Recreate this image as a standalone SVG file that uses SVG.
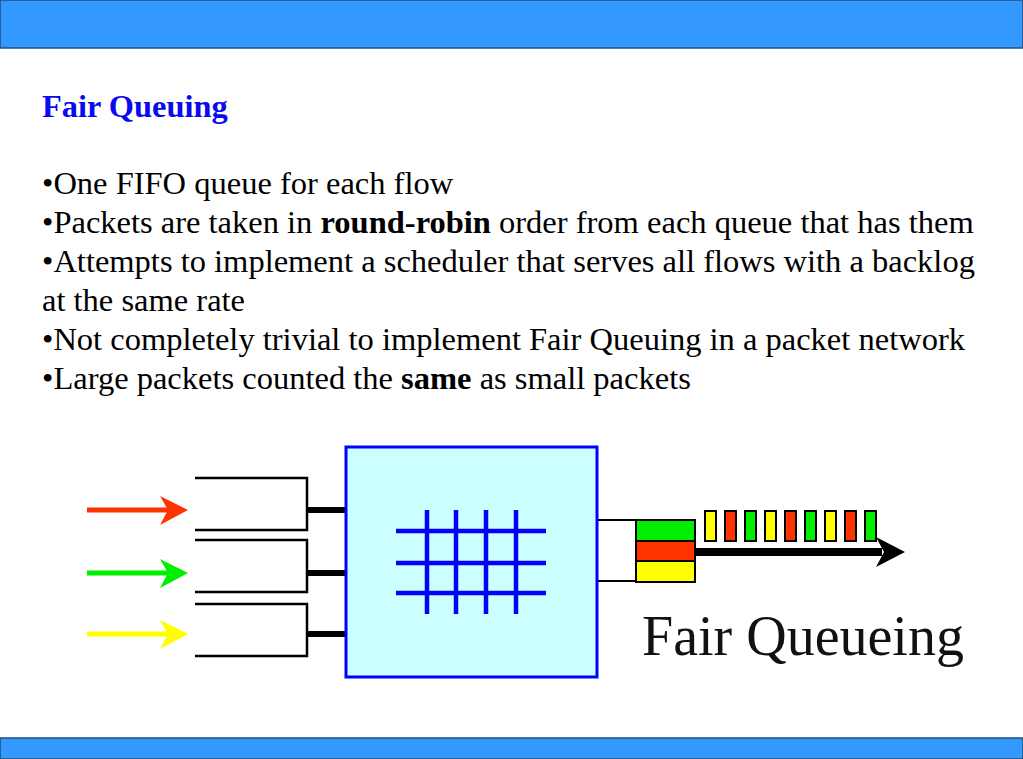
<svg xmlns="http://www.w3.org/2000/svg" width="1023" height="759" viewBox="0 0 1023 759">
<style>
.q{fill:none;stroke:#000;stroke-width:2.5}
.conn{stroke:#000;stroke-width:6}
.grid{stroke:#0000FF;stroke-width:4.5}
.pk{stroke:#000;stroke-width:2}
</style>
<rect x="0" y="0" width="1023" height="48" fill="#3399FF" stroke="#1F4F7F" stroke-width="1.5"/>
<rect x="0" y="738" width="1023" height="21" fill="#3399FF" stroke="#1F4F7F" stroke-width="1.5"/>
<g id="slide-body">
<text x="42" y="117" font-family="Liberation Serif" font-size="32.4" font-weight="bold" fill="#0A0AEE">Fair Queuing</text>
<text x="42" y="194" font-family="Liberation Serif" font-size="32.5" fill="#000">•One FIFO queue for each flow</text>
<text x="42" y="233" font-family="Liberation Serif" font-size="32.5" fill="#000">•Packets are taken in <tspan font-weight="bold">round-robin</tspan> order from each queue that has them</text>
<text x="42" y="272" font-family="Liberation Serif" font-size="32.5" fill="#000">•Attempts to implement a scheduler that serves all flows with a backlog</text>
<text x="42" y="311" font-family="Liberation Serif" font-size="32.5" fill="#000">at the same rate</text>
<text x="42" y="350" font-family="Liberation Serif" font-size="32.5" fill="#000">•Not completely trivial to implement Fair Queuing in a packet network</text>
<text x="42" y="389" font-family="Liberation Serif" font-size="32.5" fill="#000">•Large packets counted the <tspan font-weight="bold">same</tspan> as small packets</text>
</g>
<g id="arrows-in">
<line x1="87" y1="510" x2="168" y2="510" stroke="#FF3300" stroke-width="5"/>
<polygon points="188,510 160,496 168,510 160,525" fill="#FF3300"/>
<line x1="87" y1="573" x2="168" y2="573" stroke="#00EE00" stroke-width="5"/>
<polygon points="188,573 160,559 168,573 160,588" fill="#00EE00"/>
<line x1="87" y1="634" x2="168" y2="634" stroke="#FFFF00" stroke-width="5"/>
<polygon points="188,634 160,620 168,634 160,649" fill="#FFFF00"/>
</g>
<g id="queue1"><polyline class="q" points="195,478 307,478 307,530 195,530"/></g>
<g id="queue2"><polyline class="q" points="195,540 307,540 307,592 195,592"/></g>
<g id="queue3"><polyline class="q" points="195,604 307,604 307,656 195,656"/></g>
<g id="connectors">
<line class="conn" x1="307" y1="510" x2="346" y2="510"/>
<line class="conn" x1="307" y1="573" x2="346" y2="573"/>
<line class="conn" x1="307" y1="634" x2="346" y2="634"/>
<line stroke="#000" stroke-width="2" x1="597" y1="520" x2="636" y2="520"/>
<line stroke="#000" stroke-width="2" x1="597" y1="581" x2="636" y2="581"/>
</g>
<g id="scheduler">
<rect x="346" y="447" width="251" height="230" fill="#CCFFFF" stroke="#0000FF" stroke-width="3"/>
<line class="grid" x1="396" y1="531" x2="546" y2="531"/>
<line class="grid" x1="396" y1="563" x2="546" y2="563"/>
<line class="grid" x1="396" y1="593" x2="546" y2="593"/>
<line class="grid" x1="427" y1="510" x2="427" y2="614"/>
<line class="grid" x1="456" y1="510" x2="456" y2="614"/>
<line class="grid" x1="486" y1="510" x2="486" y2="614"/>
<line class="grid" x1="516" y1="510" x2="516" y2="614"/>
</g>
<g id="output">
<line x1="695" y1="552" x2="882" y2="552" stroke="#000" stroke-width="8"/>
<polygon points="905,552 876,537 884,552 876,567" fill="#000"/>
<rect class="pk" x="636" y="520" width="59" height="21" fill="#00EE00"/>
<rect class="pk" x="636" y="541" width="59" height="20" fill="#FF3300"/>
<rect class="pk" x="636" y="561" width="59" height="21" fill="#FFFF00"/>
<rect class="pk" x="705" y="511" width="11" height="30" fill="#FFFF00"/>
<rect class="pk" x="725" y="511" width="11" height="30" fill="#FF3300"/>
<rect class="pk" x="745" y="511" width="11" height="30" fill="#00EE00"/>
<rect class="pk" x="765" y="511" width="11" height="30" fill="#FFFF00"/>
<rect class="pk" x="785" y="511" width="11" height="30" fill="#FF3300"/>
<rect class="pk" x="805" y="511" width="11" height="30" fill="#00EE00"/>
<rect class="pk" x="825" y="511" width="11" height="30" fill="#FFFF00"/>
<rect class="pk" x="845" y="511" width="11" height="30" fill="#FF3300"/>
<rect class="pk" x="865" y="511" width="11" height="30" fill="#00EE00"/>
</g>
<text x="642" y="655" font-family="Liberation Serif" font-size="56" fill="#111">Fair Queueing</text>
</svg>
